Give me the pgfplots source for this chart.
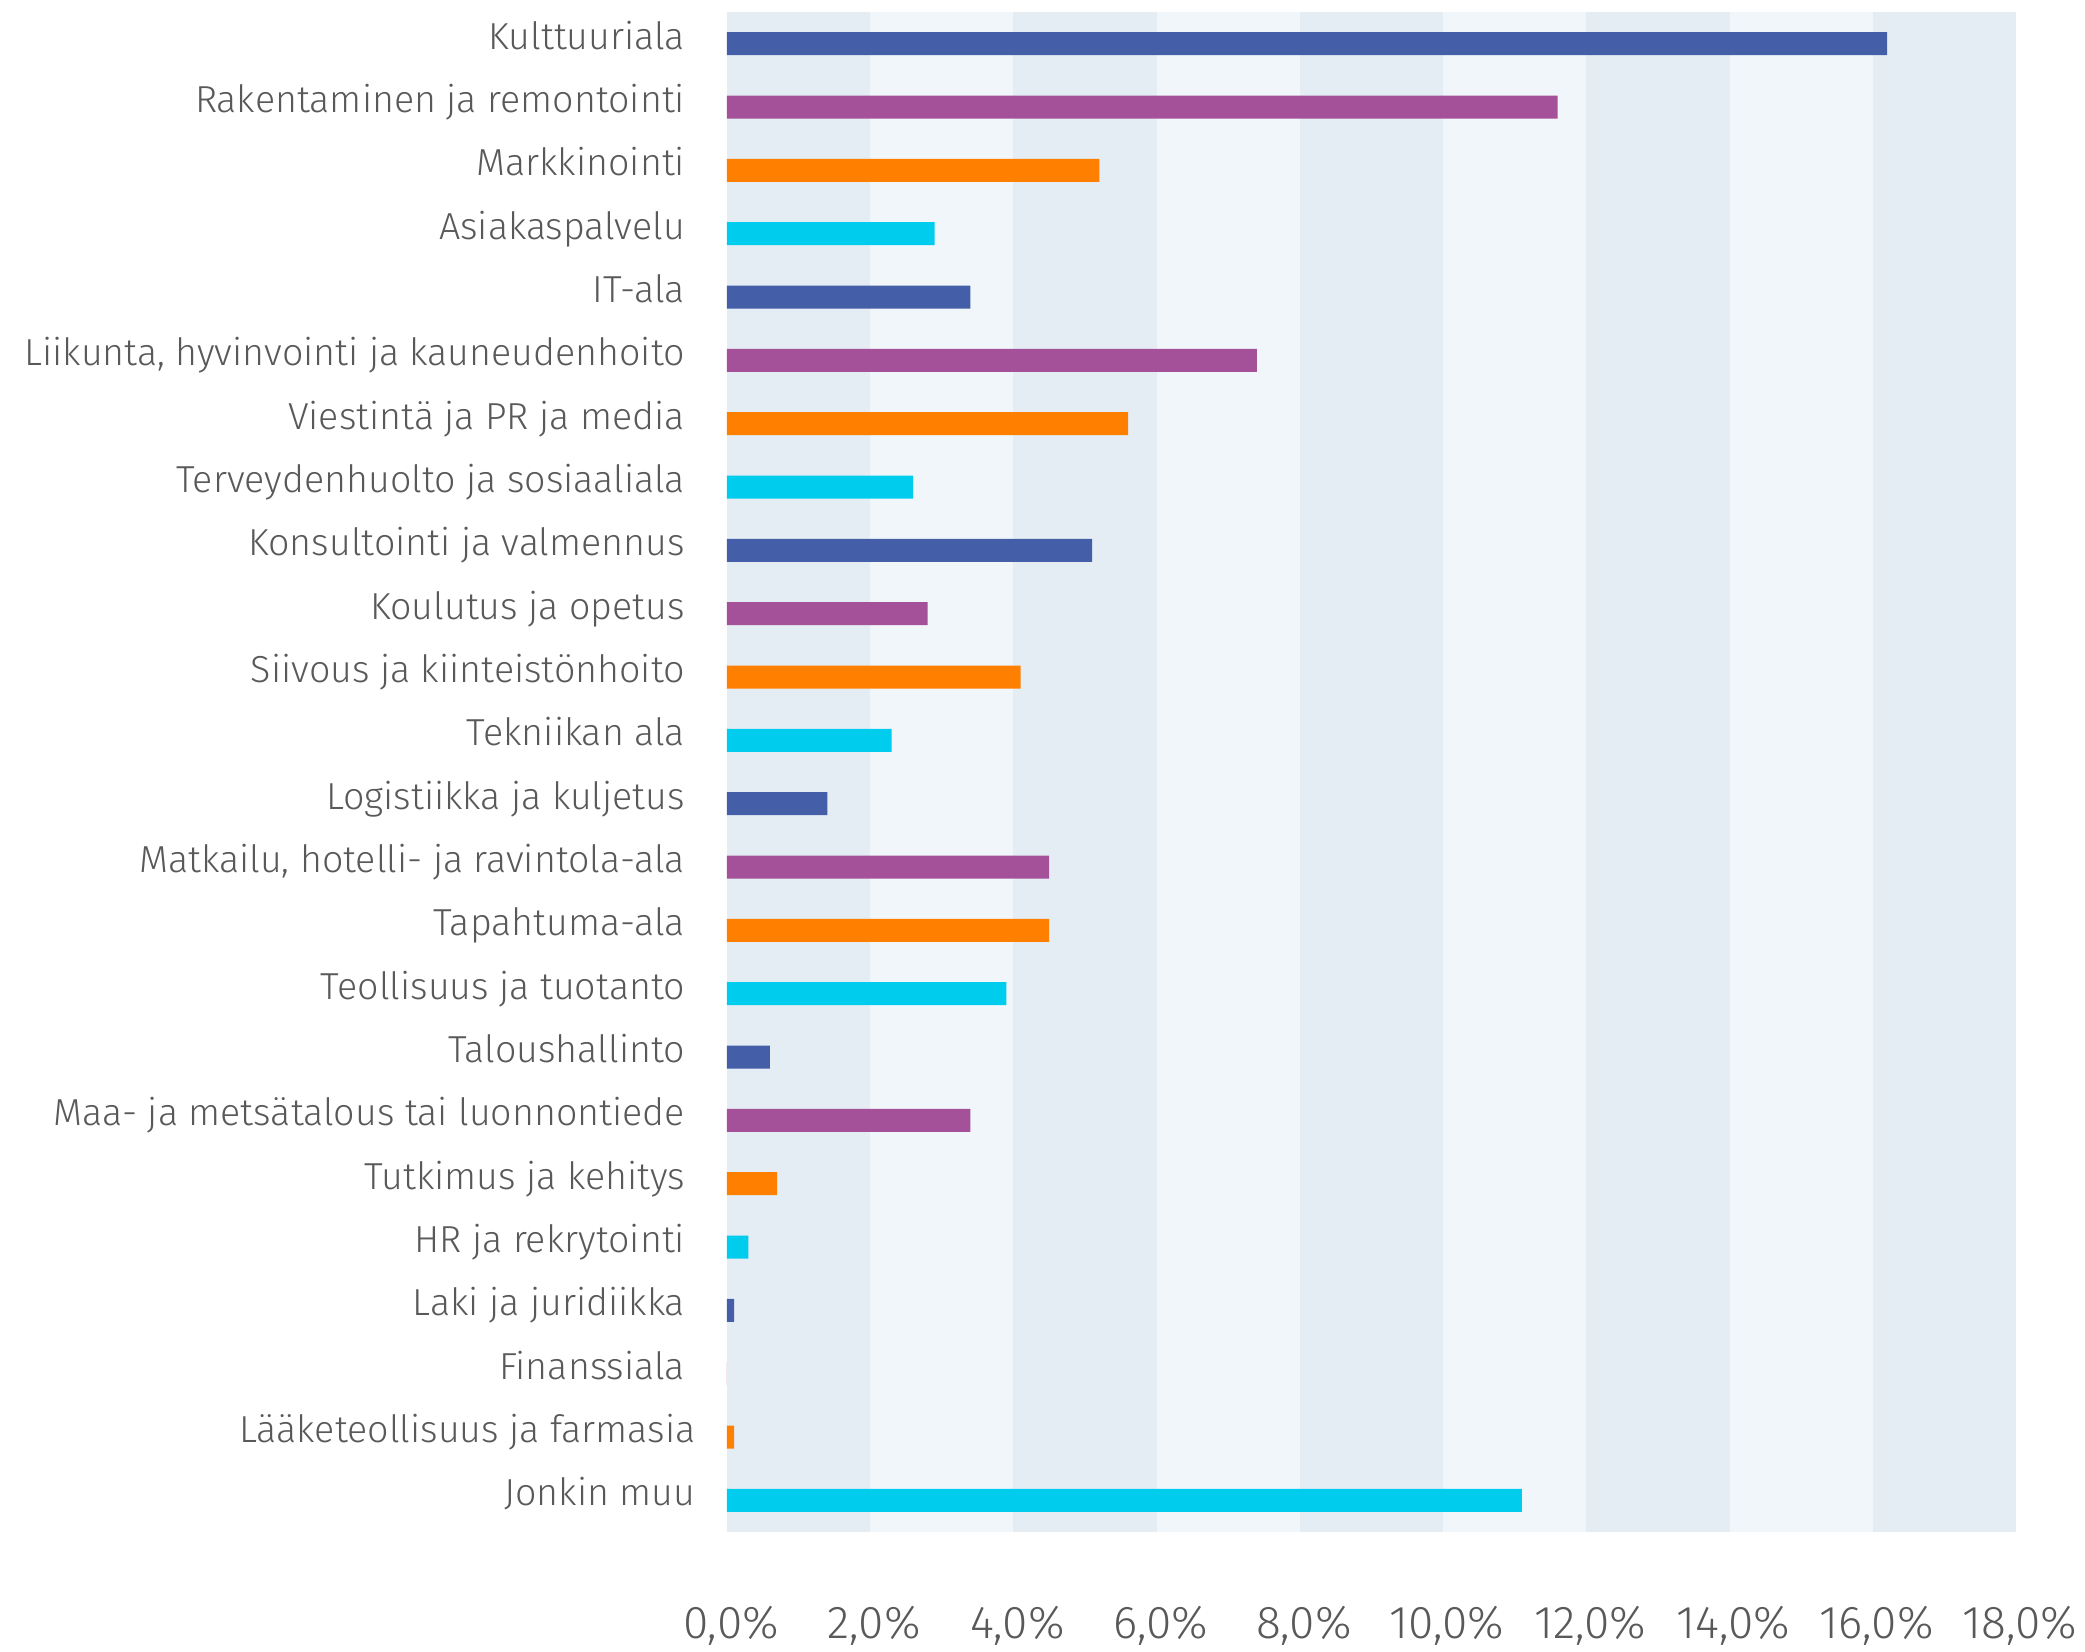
\documentclass[border=0pt]{standalone}
\usepackage{fontspec}
\setmainfont{Fira Sans Light}
\usepackage{pgfplots}
\pgfplotsset{compat=1.18}
\usetikzlibrary{calc}

\definecolor{cblue}{HTML}{445EA8}
\definecolor{cpurple}{HTML}{A5519A}
\definecolor{corange}{HTML}{FF7F00}
\definecolor{ccyan}{HTML}{00CCEE}
\definecolor{banddark}{HTML}{E4ECF4}
\definecolor{bandlight}{HTML}{F1F6FB}
\definecolor{txt}{HTML}{595959}

\begin{document}
\begin{tikzpicture}
\begin{axis}[
  scale only axis, width=322.25pt, height=380pt,
  xmin=0, xmax=18, ymin=-0.5, ymax=23.5, y dir=reverse,
  xbar, bar shift=0pt, bar width=5.75pt,
  axis line style={draw=none}, major tick length=0pt,
  xtick={0,2,...,18},
  xticklabels={{0,0\%},{2,0\%},{4,0\%},{6,0\%},{8,0\%},{10,0\%},{12,0\%},{14,0\%},{16,0\%},{18,0\%}},
  ytick={0,...,23},
  yticklabels={Kulttuuriala, Rakentaminen ja remontointi, Markkinointi, Asiakaspalvelu, IT-ala,
    {Liikunta, hyvinvointi ja kauneudenhoito}, Viestintä ja PR ja media, Terveydenhuolto ja sosiaaliala,
    Konsultointi ja valmennus, Koulutus ja opetus, Siivous ja kiinteistönhoito, Tekniikan ala,
    Logistiikka ja kuljetus, {Matkailu, hotelli- ja ravintola-ala}, Tapahtuma-ala, Teollisuus ja tuotanto,
    Taloushallinto, Maa- ja metsätalous tai luonnontiede, Tutkimus ja kehitys, HR ja rekrytointi,
    Laki ja juridiikka, Finanssiala, {Lääketeollisuus ja farmasia\kern-2.6pt}, {Jonkin muu\kern-2.6pt}},
  yticklabel style={anchor=base east, inner sep=0pt, xshift=-10.3pt, yshift=-1.4pt,
    font=\fontsize{9.4}{11}\selectfont, text=txt},
  xticklabel style={anchor=base, inner sep=0pt, xshift=1pt, yshift=-26.5pt,
    font=\fontsize{11.5}{14}\selectfont, text=txt},
]
% background bands
\pgfplotsinvokeforeach{0,4,8,12,16}{
  \fill[banddark] (axis cs:#1,-0.5) rectangle (axis cs:#1+2,23.5);
}
\pgfplotsinvokeforeach{2,6,10,14}{
  \fill[bandlight] (axis cs:#1,-0.5) rectangle (axis cs:#1+2,23.5);
}
\addplot[fill=cblue, draw=none] coordinates {(16.2,0) (3.4,4) (5.1,8) (1.4,12) (0.6,16) (0.1,20)};
\addplot[fill=cpurple, draw=none] coordinates {(11.6,1) (7.4,5) (2.8,9) (4.5,13) (3.4,17) (0,21)};
\addplot[fill=corange, draw=none] coordinates {(5.2,2) (5.6,6) (4.1,10) (4.5,14) (0.7,18) (0.1,22)};
\addplot[fill=ccyan, draw=none] coordinates {(2.9,3) (2.6,7) (2.3,11) (3.9,15) (0.3,19) (11.1,23)};
\end{axis}
\path ($(current axis.south west)+(-181.75pt,-29.75pt)$) rectangle ($(current axis.north east)+(17.25pt,3pt)$);
\end{tikzpicture}
\end{document}
